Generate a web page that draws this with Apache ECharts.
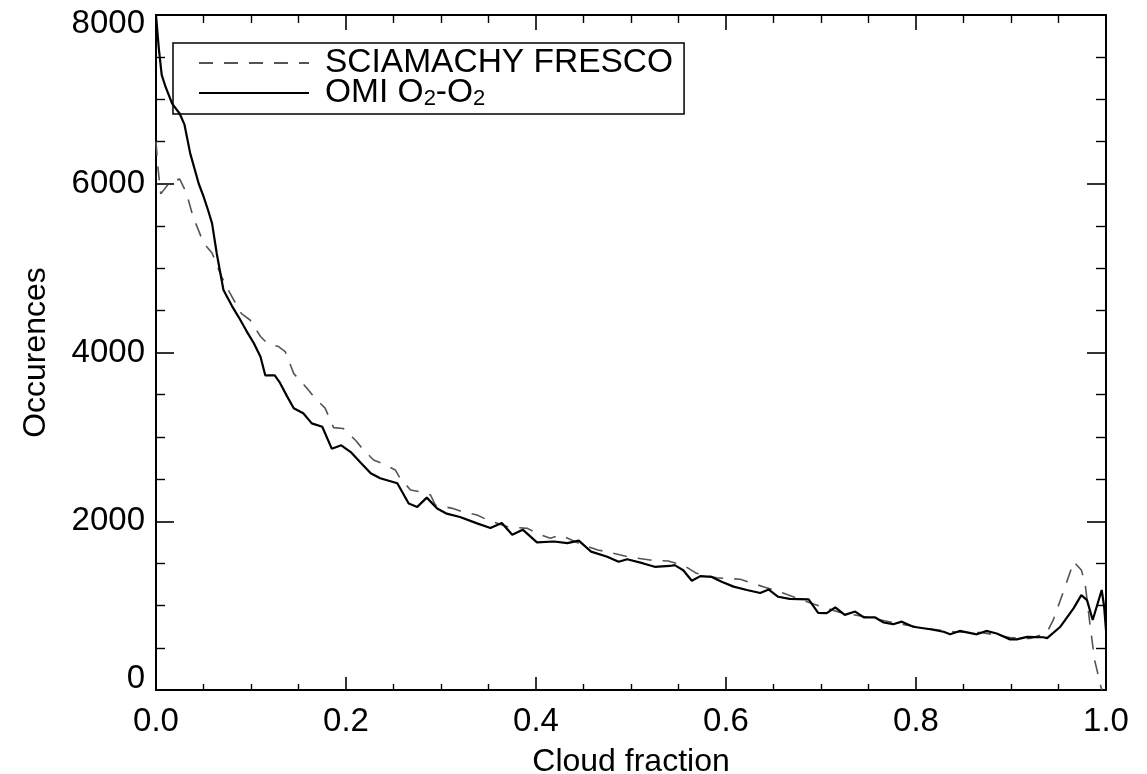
<!DOCTYPE html>
<html>
<head>
<meta charset="utf-8">
<script src="https://cdn.jsdelivr.net/npm/echarts@6/dist/echarts.min.js"></script>
<style>
html,body{margin:0;padding:0;background:#fff;}
#chart{width:1147px;height:774px;}
</style>
</head>
<body>
<div id="chart"></div>
<script>
// ---- Data ----
const seriesNames = ['SCIAMACHY FRESCO', 'OMI O2-O2'];
const xTickLabels = ['0.0', '0.2', '0.4', '0.6', '0.8', '1.0'];
const yTickLabels = ['0', '2000', '4000', '6000', '8000'];

const sciaX = [0, 0.002, 0.005, 0.015, 0.025, 0.032, 0.039, 0.05, 0.059, 0.069, 0.078, 0.09, 0.099, 0.11, 0.117, 0.129, 0.136, 0.145, 0.159, 0.166, 0.178, 0.187, 0.197, 0.21, 0.217, 0.229, 0.238, 0.252, 0.257, 0.268, 0.278, 0.289, 0.294, 0.312, 0.322, 0.338, 0.349, 0.37, 0.391, 0.401, 0.415, 0.426, 0.445, 0.465, 0.475, 0.496, 0.52, 0.539, 0.555, 0.569, 0.59, 0.615, 0.641, 0.66, 0.692, 0.72, 0.75, 0.78, 0.81, 0.84, 0.87, 0.9, 0.92, 0.9375, 0.9445, 0.957, 0.966, 0.974, 0.978, 0.983, 0.988, 0.9955];
const sciaY = [6500, 6200, 5880, 6024, 6055, 5890, 5610, 5300, 5180, 4900, 4700, 4460, 4385, 4190, 4110, 4070, 4010, 3750, 3575, 3476, 3340, 3110, 3100, 2960, 2864, 2726, 2686, 2607, 2509, 2370, 2350, 2311, 2192, 2153, 2113, 2074, 2015, 1935, 1916, 1857, 1798, 1837, 1740, 1659, 1639, 1580, 1540, 1529, 1480, 1383, 1330, 1312, 1217, 1150, 1019, 920, 860, 790, 730, 690, 680, 620, 610, 675, 830, 1224, 1520, 1422, 1264, 790, 355, 0];

const omiX = [0, 0.003, 0.006, 0.01, 0.017, 0.025, 0.03, 0.036, 0.045, 0.05, 0.055, 0.059, 0.064, 0.071, 0.08, 0.087, 0.095, 0.103, 0.11, 0.115, 0.125, 0.13, 0.138, 0.145, 0.155, 0.164, 0.175, 0.185, 0.195, 0.205, 0.215, 0.226, 0.236, 0.245, 0.254, 0.266, 0.275, 0.285, 0.296, 0.306, 0.32, 0.338, 0.352, 0.364, 0.375, 0.386, 0.401, 0.419, 0.433, 0.445, 0.458, 0.475, 0.487, 0.496, 0.513, 0.525, 0.541, 0.546, 0.555, 0.564, 0.573, 0.585, 0.596, 0.608, 0.622, 0.636, 0.645, 0.655, 0.667, 0.687, 0.697, 0.706, 0.715, 0.725, 0.736, 0.745, 0.757, 0.766, 0.776, 0.785, 0.797, 0.815, 0.829, 0.836, 0.846, 0.864, 0.874, 0.885, 0.899, 0.906, 0.917, 0.934, 0.938, 0.952, 0.966, 0.974, 0.98, 0.986, 0.9955, 0.998, 1.0];
const omiY = [8000, 7600, 7290, 7150, 6950, 6830, 6700, 6360, 6000, 5850, 5680, 5530, 5170, 4740, 4550, 4420, 4260, 4110, 3950, 3730, 3730, 3650, 3480, 3340, 3280, 3160, 3120, 2860, 2900, 2820, 2700, 2570, 2510, 2480, 2450, 2210, 2170, 2280, 2150, 2090, 2050, 1975, 1920, 1980, 1840, 1900, 1750, 1760, 1740, 1770, 1640, 1580, 1520, 1550, 1500, 1460, 1470, 1480, 1420, 1295, 1350, 1340, 1280, 1225, 1185, 1150, 1190, 1105, 1080, 1075, 915, 910, 980, 890, 930, 860, 860, 800, 780, 810, 750, 720, 690, 660, 700, 660, 700, 670, 600, 600, 630, 625, 615, 750, 970, 1125, 1065, 830, 1185, 990, 710];

// ---- Chart ----
const FONT = 'Liberation Sans, Arial, Helvetica, sans-serif';
const pairs = (xs, ys) => xs.map((x, i) => [x, ys[i]]);

const xMin = 0, xMax = 1, xInt = 0.2;
const yMin = 0, yMax = 8000, yInt = 2000;

const chart = echarts.init(document.getElementById('chart'), null, {renderer: 'canvas'});

const axisLineStyle = {color: '#000', width: 2};
function xAxisBase(pos, showLabel, tickLen, minorLen) {
  return {
    type: 'value', position: pos, min: xMin, max: xMax, interval: xInt,
    axisLine: {show: true, onZero: false, lineStyle: axisLineStyle},
    axisTick: {show: true, inside: true, length: tickLen, lineStyle: {color: '#000', width: 1.6}},
    minorTick: {show: true, splitNumber: 4, length: minorLen, lineStyle: {color: '#000', width: 1.4}},
    splitLine: {show: false}, minorSplitLine: {show: false},
    axisLabel: {
      show: showLabel, margin: 15, color: '#000', fontFamily: FONT, fontSize: 33,
      formatter: v => xTickLabels[Math.round((v - xMin) / xInt)]
    }
  };
}
function yAxisBase(pos, showLabel, tickLen, minorLen) {
  return {
    type: 'value', position: pos, min: yMin, max: yMax, interval: yInt,
    axisLine: {show: true, onZero: false, lineStyle: axisLineStyle},
    axisTick: {show: true, inside: true, length: tickLen, lineStyle: {color: '#000', width: 1.6}},
    minorTick: {show: true, splitNumber: 4, length: minorLen, lineStyle: {color: '#000', width: 1.4}},
    splitLine: {show: false}, minorSplitLine: {show: false},
    axisLabel: {
      show: showLabel, margin: 11, color: '#000', fontFamily: FONT, fontSize: 33,
      formatter: v => {
        const t = yTickLabels[Math.round((v - yMin) / yInt)];
        if (v === yMin) return '{lo|' + t + '}';
        if (v === yMax) return '{hi|' + t + '}';
        return t;
      },
      rich: {
        lo: {fontFamily: FONT, fontSize: 33, color: '#000', padding: [0, 0, 22, 0]},
        hi: {fontFamily: FONT, fontSize: 33, color: '#000', padding: [18, 0, 0, 0]}
      }
    }
  };
}

const xb = xAxisBase('bottom', true, 13, 6);
xb.name = 'Cloud fraction';
xb.nameLocation = 'middle';
xb.nameGap = 56;
xb.nameTextStyle = {fontFamily: FONT, fontSize: 32, color: '#000'};
const xt = xAxisBase('top', false, 15, 8);

const yl = yAxisBase('left', true, 18, 9);
yl.name = 'Occurences';
yl.nameLocation = 'middle';
yl.nameGap = 104;
yl.nameTextStyle = {fontFamily: FONT, fontSize: 32, color: '#000'};
const yr = yAxisBase('right', false, 19, 10);

const option = {
  animation: false,
  backgroundColor: '#fff',
  grid: {left: 156, right: 41, top: 15, bottom: 84, containLabel: false, outerBoundsMode: 'none'},
  xAxis: [xb, xt],
  yAxis: [yl, yr],
  legend: {
    show: true,
    data: seriesNames,
    orient: 'vertical',
    left: 173, top: 43,
    padding: [3, 11, 4, 25],
    itemGap: -4,
    itemWidth: 110,
    itemHeight: 14,
    itemStyle: {opacity: 0},
    borderColor: '#000',
    borderWidth: 1.5,
    borderRadius: 0,
    selectedMode: false,
    textStyle: {
      fontFamily: FONT, fontSize: 33.5, color: '#000', lineHeight: 28,
      rich: {
        n: {fontFamily: FONT, fontSize: 33.5, color: '#000', lineHeight: 28},
        p: {fontFamily: FONT, fontSize: 33.5, color: '#000', lineHeight: 28, padding: [0, 0, 0, 11]},
        s: {fontFamily: FONT, fontSize: 22, color: '#000', lineHeight: 17, padding: [11, 0, 0, 0]}
      }
    },
    formatter: name => {
      if (name === seriesNames[1]) return '{p|OMI O}{s|2}{n|-O}{s|2}';
      return '{p|' + name + '}';
    }
  },
  series: [
    {
      name: seriesNames[0], type: 'line', xAxisIndex: 0, yAxisIndex: 0,
      data: pairs(sciaX, sciaY), symbol: 'none', smooth: false,
      lineStyle: {color: '#555', width: 1.6, type: [14, 11]},
      itemStyle: {color: '#555'},
      z: 2
    },
    {
      name: seriesNames[1], type: 'line', xAxisIndex: 0, yAxisIndex: 0,
      data: pairs(omiX, omiY), symbol: 'none', smooth: false,
      lineStyle: {color: '#000', width: 2.2},
      itemStyle: {color: '#000'},
      z: 3
    }
  ]
};
chart.setOption(option);
</script>
</body>
</html>
